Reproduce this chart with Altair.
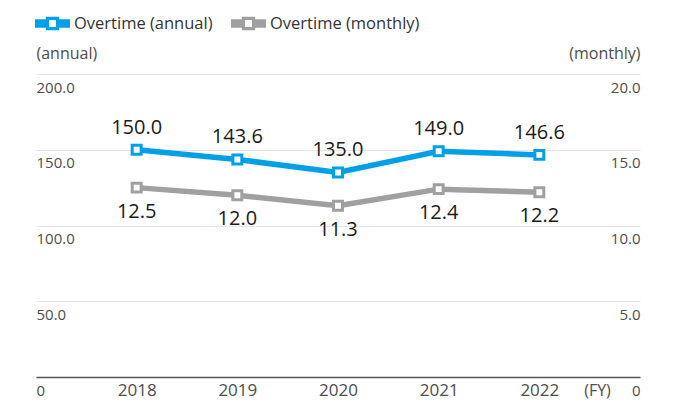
import altair as alt
import pandas as pd

years = ["2018", "2019", "2020", "2021", "2022"]
annual = [150.0, 143.6, 135.0, 149.0, 146.6]
monthly = [12.5, 12.0, 11.3, 12.4, 12.2]
series = ["Overtime (annual)", "Overtime (monthly)"]
colors = ["#00A0E9", "#A0A0A0"]
left_ticks = [0, 50, 100, 150, 200]
right_ticks = [0, 5, 10, 15, 20]

df = pd.DataFrame({"year": years, "annual": annual, "monthly": monthly})
leg_df = pd.DataFrame({"series": series})

FONT = "Open Sans"
LABEL_C = "#4d4d4d"

x_enc = alt.X(
    "year:O",
    scale=alt.Scale(type="point", padding=1.07),
    axis=alt.Axis(
        title="(FY)", labelAngle=0, ticks=False, domainColor="#555555", domainWidth=1.5,
        labelPadding=13, labelBaseline="middle", labelFontSize=17, labelColor=LABEL_C,
        labelFont=FONT, titleX=561, titleY=13, titleAlign="center", titleBaseline="middle",
        titleFontSize=16, titleFontWeight="normal", titleColor=LABEL_C, titleFont=FONT,
        grid=False,
    ),
)

y_left = alt.Y(
    "annual:Q",
    scale=alt.Scale(domain=[0, 200], nice=False),
    axis=alt.Axis(
        values=left_ticks, labelExpr="datum.value == 0 ? '0' : format(datum.value, '.1f')",
        grid=True, gridColor="#e6e6e6", gridWidth=1, domain=False, ticks=False,
        labelAlign="left", labelPadding=0, labelBaseline="middle", labelOffset=13,
        labelFontSize=15, labelColor=LABEL_C, labelFont=FONT, labelOverlap=False,
        title="(annual)", titleAngle=0, titleX=0, titleY=-21, titleAlign="left",
        titleBaseline="middle", titleFontWeight="normal", titleFontSize=16,
        titleColor=LABEL_C, titleFont=FONT,
    ),
)

y_right = alt.Y(
    "monthly:Q",
    scale=alt.Scale(domain=[0, 20], nice=False),
    axis=alt.Axis(
        orient="right", values=right_ticks,
        labelExpr="datum.value == 0 ? '0' : format(datum.value, '.1f')",
        grid=False, domain=False, ticks=False,
        labelAlign="right", labelPadding=0, labelBaseline="middle", labelOffset=13,
        labelFontSize=15, labelColor=LABEL_C, labelFont=FONT, labelOverlap=False,
        title="(monthly)", titleAngle=0, titleX=0, titleY=-21, titleAlign="right",
        titleBaseline="middle", titleFontWeight="normal", titleFontSize=16,
        titleColor=LABEL_C, titleFont=FONT,
    ),
)

base = alt.Chart(df)

a_line = base.mark_line(color=colors[0], strokeWidth=5.5).encode(x=x_enc, y=y_left)
a_pts = base.mark_point(shape="square", filled=True, fill="white", stroke=colors[0],
                        strokeWidth=3, size=80, opacity=1).encode(x=x_enc, y=y_left)
a_txt = base.mark_text(dy=-22, fontSize=20, font=FONT, color="#1a1a1a").encode(
    x=x_enc, y=y_left, text=alt.Text("annual:Q", format=".1f"))

m_line = base.mark_line(color=colors[1], strokeWidth=5.5).encode(x=x_enc, y=y_right)
m_pts = base.mark_point(shape="square", filled=True, fill="white", stroke=colors[1],
                        strokeWidth=3, size=80, opacity=1).encode(x=x_enc, y=y_right)
m_txt = base.mark_text(dy=24, fontSize=20, font=FONT, color="#1a1a1a").encode(
    x=x_enc, y=y_right, text=alt.Text("monthly:Q", format=".1f"))

sym = "M-1,-0.24H-0.38V-0.38H0.38V-0.24H1V0.24H0.38V0.38H-0.38V0.24H-1Z M-0.2,-0.2V0.2H0.2V-0.2Z"

leg = alt.Chart(leg_df).mark_point(filled=True, opacity=0).encode(
    fill=alt.Fill(
        "series:N",
        scale=alt.Scale(domain=series, range=colors),
        legend=alt.Legend(
            title=None, orient="none", legendX=-1, legendY=-68, direction="horizontal",
            symbolType=sym, symbolSize=1225, symbolOpacity=1, symbolStrokeWidth=0,
            labelFontSize=16.5, labelFont=FONT, labelColor="#333333", labelOffset=4,
            columnPadding=18, labelLimit=300,
        ),
    )
)

chart = alt.layer(
    alt.layer(a_line, a_pts, a_txt),
    alt.layer(m_line, m_pts, m_txt),
    leg,
).resolve_scale(y="independent", fill="independent").properties(
    width=604, height=303,
    autosize=alt.AutoSizeParams(type="none"),
    padding={"left": 28, "top": 66, "right": 27, "bottom": 23},
).configure_view(stroke=None)

chart.save("out.html", embed_options={"renderer": "svg", "actions": False})
